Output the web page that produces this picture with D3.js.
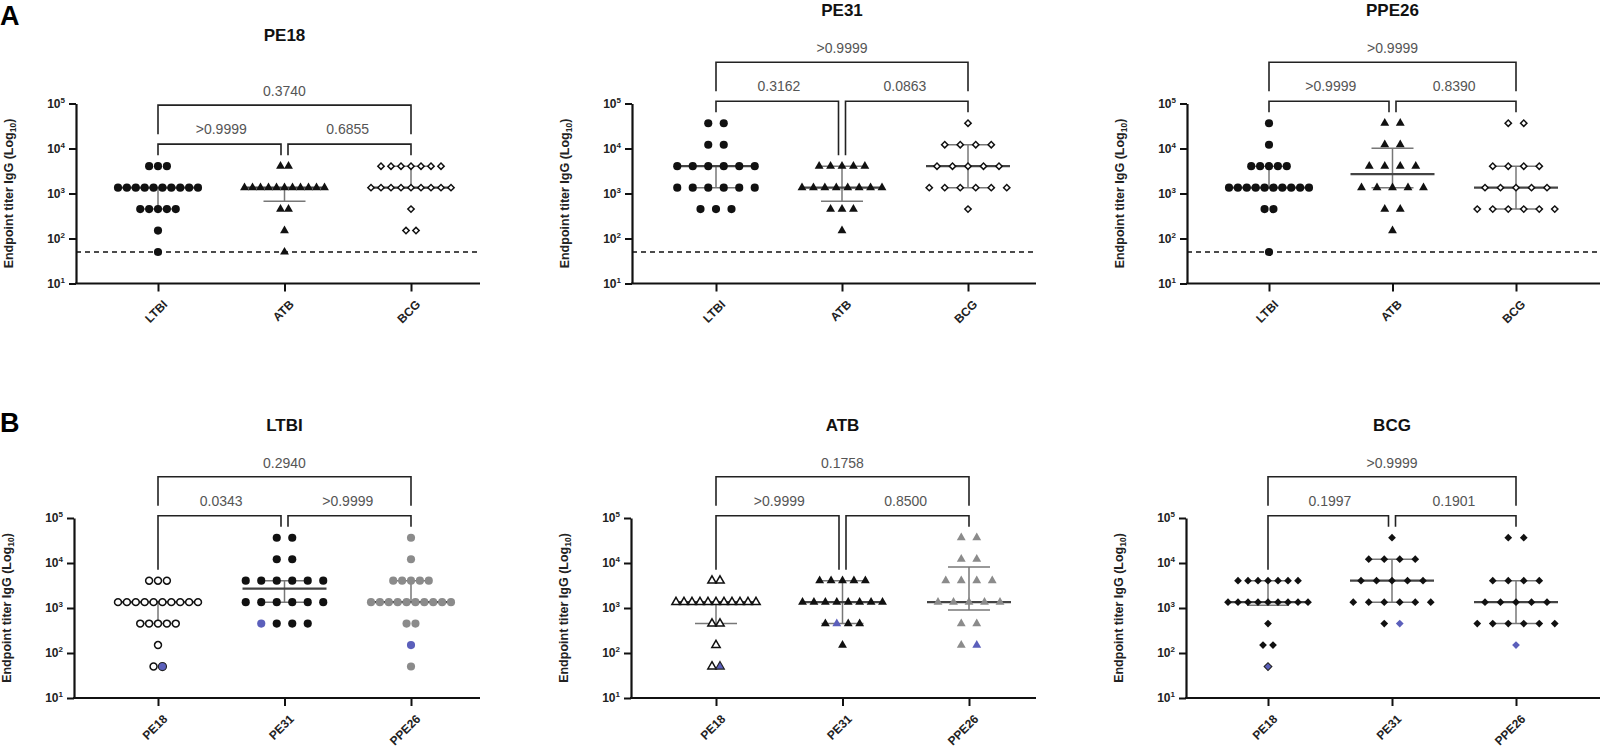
<!DOCTYPE html>
<html>
<head>
<meta charset="utf-8">
<script src="https://cdn.jsdelivr.net/npm/d3@7"></script>
<style>
  body { margin: 0; background: #fff; }
  svg { font-family: "Liberation Sans", Arial, sans-serif; }
</style>
</head>
<body>
<svg id="chart" width="1613" height="749"></svg>
<script>
// ---- data (titers, 3-fold dilution steps) ----
const yTicks = [10, 100, 1000, 10000, 100000];
const cohorts = ["LTBI", "ATB", "BCG"];
const antigens = ["PE18", "PE31", "PPE26"];
const panelTitles = ["PE18", "PE31", "PPE26", "LTBI", "ATB", "BCG"];
const cutoff = 50;

// row A : one antigen per panel, groups = cohorts
const a_pe18_ltbi = [4050,4050,4050, 1350,1350,1350,1350,1350,1350,1350,1350,1350,1350, 450,450,450,450,450, 150, 50];
const a_pe18_atb  = [4050,4050, 1350,1350,1350,1350,1350,1350,1350,1350,1350,1350,1350, 450,450, 150, 50];
const a_pe18_bcg  = [4050,4050,4050,4050,4050,4050,4050, 1350,1350,1350,1350,1350,1350,1350,1350,1350, 450, 150,150];
const a_pe31_ltbi = [36450,36450, 12150,12150, 4050,4050,4050,4050,4050,4050, 1350,1350,1350,1350,1350,1350, 450,450,450];
const a_pe31_atb  = [4050,4050,4050,4050,4050, 1350,1350,1350,1350,1350,1350,1350,1350, 450,450,450, 150];
const a_pe31_bcg  = [36450, 12150,12150,12150,12150, 4050,4050,4050,4050,4050, 1350,1350,1350,1350,1350,1350, 450];
const a_ppe26_ltbi = [36450, 12150, 4050,4050,4050,4050,4050, 1350,1350,1350,1350,1350,1350,1350,1350,1350,1350, 450,450, 50];
const a_ppe26_atb  = [36450,36450, 12150,12150, 4050,4050,4050,4050, 1350,1350,1350,1350,1350, 450,450, 150];
const a_ppe26_bcg  = [36450,36450, 4050,4050,4050,4050, 1350,1350,1350,1350,1350, 450,450,450,450,450,450];

// row B : one cohort per panel, groups = antigens
const b_ltbi_pe18  = [4050,4050,4050, 1350,1350,1350,1350,1350,1350,1350,1350,1350,1350, 450,450,450,450,450, 150, 50,50];
const b_ltbi_pe31  = [36450,36450, 12150,12150, 4050,4050,4050,4050,4050,4050, 1350,1350,1350,1350,1350,1350, 450,450,450,450];
const b_ltbi_ppe26 = [36450, 12150, 4050,4050,4050,4050,4050, 1350,1350,1350,1350,1350,1350,1350,1350,1350,1350, 450,450, 150, 50];
const b_atb_pe18   = [4050,4050, 1350,1350,1350,1350,1350,1350,1350,1350,1350,1350,1350, 450,450, 150, 50,50];
const b_atb_pe31   = [4050,4050,4050,4050,4050, 1350,1350,1350,1350,1350,1350,1350,1350, 450,450,450,450, 150];
const b_atb_ppe26  = [36450,36450, 12150,12150, 4050,4050,4050,4050, 1350,1350,1350,1350,1350, 450,450, 150,150];
const b_bcg_pe18   = [4050,4050,4050,4050,4050,4050,4050, 1350,1350,1350,1350,1350,1350,1350,1350,1350, 450, 150,150, 50];
const b_bcg_pe31   = [36450, 12150,12150,12150,12150, 4050,4050,4050,4050,4050, 1350,1350,1350,1350,1350,1350, 450,450];
const b_bcg_ppe26  = [36450,36450, 4050,4050,4050,4050, 1350,1350,1350,1350,1350, 450,450,450,450,450,450, 150];

// highlighted (blue) subject: group, titer, position in that row
const hl_ltbi = [{cat: "PE18", v: 50, slot: 1, ring: true}, {cat: "PE31", v: 450, slot: 0}, {cat: "PPE26", v: 150, slot: 0}];
const hl_atb  = [{cat: "PE18", v: 50, slot: 1, ring: true}, {cat: "PE31", v: 450, slot: 1}, {cat: "PPE26", v: 150, slot: 1}];
const hl_bcg  = [{cat: "PE18", v: 50, slot: 0, ring: true}, {cat: "PE31", v: 450, slot: 1}, {cat: "PPE26", v: 150, slot: 0}];

// median and interquartile range per group
const medians = [[1350,1350,1350], [4050,1350,4050], [1350,2700,1350], [1350,2700,1350], [1350,1350,1350], [1350,4050,1350]];
const q1s     = [[450,675,1350],   [1350,675,1350],  [1350,1350,450],  [450,1350,1350],  [450,450,900],    [1150,1350,450]];
const q3s     = [[1350,1350,4050], [4050,4050,12150],[4050,10125,4050],[1350,4050,4050], [1350,4050,8100], [4050,12150,4050]];

// p-values: [left pair, right pair], outer
const pInner = [[">0.9999","0.6855"], ["0.3162","0.0863"], [">0.9999","0.8390"], ["0.0343",">0.9999"], [">0.9999","0.8500"], ["0.1997","0.1901"]];
const pOuter = ["0.3740", ">0.9999", ">0.9999", "0.2940", "0.1758", ">0.9999"];

const groupValues = [
  [a_pe18_ltbi, a_pe18_atb, a_pe18_bcg],
  [a_pe31_ltbi, a_pe31_atb, a_pe31_bcg],
  [a_ppe26_ltbi, a_ppe26_atb, a_ppe26_bcg],
  [b_ltbi_pe18, b_ltbi_pe31, b_ltbi_ppe26],
  [b_atb_pe18, b_atb_pe31, b_atb_ppe26],
  [b_bcg_pe18, b_bcg_pe31, b_bcg_ppe26]
];
const highlights = [[], [], [], hl_ltbi, hl_atb, hl_bcg];

// ---- layout and styles ----
const axisX = [76, 632, 1187, 74, 631, 1186];
const xEnd = [480, 1036, 1600, 480, 1036, 1600];
const catSpan = [[82, 335], [84, 336], [82, 329], [84, 337], [85, 338], [82, 330]];
const rowTop = [103.5, 518], rowBottom = [283.5, 698];
const titleY = [41, 16, 16, 431, 431, 431];

const BLACK = "#111", GRAY = "#8b8b8b", BLUE = "#5b5fbb";
const markerA = [
  {shape: "circle", fill: BLACK, open: false},
  {shape: "triangle", fill: BLACK, open: false},
  {shape: "diamond", fill: "#fff", open: true}
];
const shapeB = ["circle", "triangle", "diamond"];
const fillB = [
  [{fill: "#fff", open: true}, {fill: BLACK, open: false}, {fill: GRAY, open: false}],
  [{fill: "#fff", open: true}, {fill: BLACK, open: false}, {fill: GRAY, open: false}],
  [{fill: BLACK, open: false}, {fill: BLACK, open: false}, {fill: BLACK, open: false}]
];

const svg = d3.select("#chart");

function symbolPath(shape, open) {
  if (shape === "circle") return d3.symbol().type(d3.symbolCircle).size(open ? 38 : 52)();
  if (shape === "triangle") return d3.symbol().type(d3.symbolTriangle).size(open ? 30 : 34)();
  return d3.symbol().type(d3.symbolSquare).size(open ? 20 : 30)();
}

// spread tied values side by side like a scatter dot plot
function layoutGroup(vals, hl) {
  const rows = d3.group(vals, v => v);
  const maxRow = d3.max(Array.from(rows.values(), r => r.length));
  const step = maxRow > 1 ? Math.min(80 / (maxRow - 1), 15.5) : 0;
  const pts = [];
  rows.forEach((r, v) => {
    r.forEach((_, i) => {
      const h = hl.find(d => d.v === v && d.slot === i);
      pts.push({v: v, dx: (i - (r.length - 1) / 2) * step, hl: h});
    });
  });
  return pts;
}

svg.append("text").attr("x", 0).attr("y", 25).attr("font-size", 27).attr("font-weight", "bold").text("A");
svg.append("text").attr("x", 0).attr("y", 432).attr("font-size", 27).attr("font-weight", "bold").text("B");

panelTitles.forEach((title, p) => {
  const row = p < 3 ? 0 : 1;
  const cats = row === 0 ? cohorts : antigens;
  const x0 = axisX[p], top = rowTop[row], bottom = rowBottom[row];
  const g = svg.append("g");

  const y = d3.scaleLog().domain([10, 1e5]).range([bottom, top]);
  const x = d3.scalePoint().domain(cats).range([x0 + catSpan[p][0], x0 + catSpan[p][1]]);

  // y axis
  const ya = g.append("g").attr("transform", `translate(${x0},0)`)
    .call(d3.axisLeft(y).tickValues(yTicks).tickSize(7).tickSizeOuter(0).tickPadding(4).tickFormat(""));
  ya.select(".domain").attr("stroke", BLACK).attr("stroke-width", 2.2);
  ya.selectAll(".tick line").attr("stroke", BLACK).attr("stroke-width", 2);
  ya.selectAll(".tick text").attr("font-size", 12).attr("font-weight", "bold").attr("fill", "#222")
    .each(function (d) {
      const t = d3.select(this);
      t.append("tspan").text("10");
      t.append("tspan").attr("dy", -5).attr("font-size", 8).text(Math.round(Math.log10(d)));
    });

  // y axis title
  const yt = g.append("text")
    .attr("transform", `translate(${x0 - 63},${(top + bottom) / 2}) rotate(-90)`)
    .attr("text-anchor", "middle").attr("font-size", 12.5).attr("font-weight", "bold").attr("fill", "#222");
  yt.append("tspan").text("Endpoint titer IgG (Log");
  yt.append("tspan").attr("font-size", 8.5).attr("dy", 3).text("10");
  yt.append("tspan").attr("dy", -3).text(")");

  // x axis
  g.append("line").attr("x1", x0 - 1).attr("x2", xEnd[p]).attr("y1", bottom).attr("y2", bottom)
    .attr("stroke", BLACK).attr("stroke-width", 2.2);
  const xa = g.append("g").attr("transform", `translate(0,${bottom})`)
    .call(d3.axisBottom(x).tickSize(8).tickSizeOuter(0).tickPadding(0));
  xa.select(".domain").remove();
  xa.selectAll(".tick line").attr("stroke", BLACK).attr("stroke-width", 2);
  xa.selectAll(".tick text")
    .attr("font-size", 12).attr("font-weight", "bold").attr("fill", "#222")
    .attr("text-anchor", "end").attr("dy", 0)
    .attr("transform", "translate(4,16) rotate(-45)");

  // detection limit
  if (row === 0) {
    g.append("line").attr("x1", x0).attr("x2", xEnd[p]).attr("y1", y(cutoff)).attr("y2", y(cutoff))
      .attr("stroke", BLACK).attr("stroke-width", 1.5).attr("stroke-dasharray", "5,4");
  }

  // median with interquartile range
  cats.forEach((c, i) => {
    const cx = x(c);
    g.append("line").attr("x1", cx).attr("x2", cx).attr("y1", y(q1s[p][i])).attr("y2", y(q3s[p][i]))
      .attr("stroke", "#777").attr("stroke-width", 1.5);
    [q1s[p][i], q3s[p][i]].forEach(q => {
      g.append("line").attr("x1", cx - 21).attr("x2", cx + 21).attr("y1", y(q)).attr("y2", y(q))
        .attr("stroke", "#777").attr("stroke-width", 1.5);
    });
    g.append("line").attr("x1", cx - 42).attr("x2", cx + 42).attr("y1", y(medians[p][i])).attr("y2", y(medians[p][i]))
      .attr("stroke", "#444").attr("stroke-width", 2.2);
  });

  // points
  cats.forEach((c, i) => {
    const st = row === 0 ? markerA[i] : Object.assign({shape: shapeB[p - 3]}, fillB[p - 3][i]);
    const hl = highlights[p].filter(d => d.cat === c);
    const pts = layoutGroup(groupValues[p][i], hl);
    g.append("g").selectAll("path").data(pts).join("path")
      .attr("d", d => symbolPath(st.shape, st.open && !d.hl))
      .attr("transform", d => `translate(${x(c) + d.dx},${y(d.v)})` + (st.shape === "diamond" ? " rotate(45)" : ""))
      .attr("fill", d => d.hl ? BLUE : st.fill)
      .attr("stroke", d => d.hl ? (d.hl.ring ? "#222" : "none") : (st.open ? BLACK : "none"))
      .attr("stroke-width", d => d.hl ? 1.1 : 1.5);
  });

  // significance brackets
  const legY = cats.map((c, i) => y(d3.max(groupValues[p][i])) - 11);
  const yIn = y(d3.max(groupValues[p].flat())) - 22;
  const yOut = yIn - 39;
  const xs = cats.map(c => x(c));
  const br = g.append("g").attr("fill", "none").attr("stroke", "#222").attr("stroke-width", 1.6);
  br.append("path").attr("d", `M${xs[0]},${legY[0]}V${yIn}H${xs[1] - 3.5}V${legY[1]}`);
  br.append("path").attr("d", `M${xs[1] + 3.5},${legY[1]}V${yIn}H${xs[2]}V${legY[2]}`);
  br.append("path").attr("d", `M${xs[0]},${yIn - 10}V${yOut}H${xs[2]}V${yIn - 10}`);

  const pt = g.append("g").attr("font-size", 14).attr("fill", "#555").attr("text-anchor", "middle");
  pt.append("text").attr("x", (xs[0] + xs[1]) / 2).attr("y", yIn - 10).text(pInner[p][0]);
  pt.append("text").attr("x", (xs[1] + xs[2]) / 2).attr("y", yIn - 10).text(pInner[p][1]);
  pt.append("text").attr("x", xs[1]).attr("y", yOut - 9).text(pOuter[p]);

  // panel title
  g.append("text").attr("x", xs[1]).attr("y", titleY[p]).attr("text-anchor", "middle")
    .attr("font-size", 17).attr("font-weight", "bold").attr("fill", "#111").text(title);
});
</script>
</body>
</html>
